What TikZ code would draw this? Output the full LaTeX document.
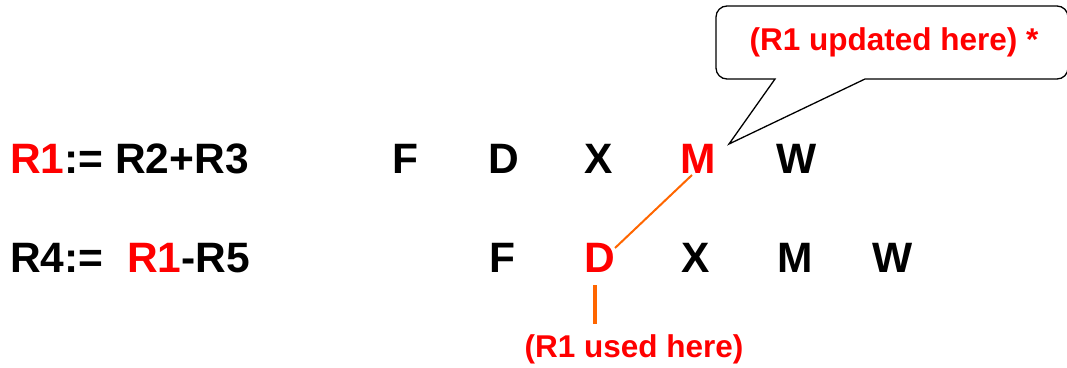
\documentclass[tikz,border=0pt]{standalone}
\usepackage{fontspec}
\setmainfont{Liberation Sans}
\usetikzlibrary{calc}
\definecolor{rred}{HTML}{FF0000}
\definecolor{lorange}{HTML}{FF6600}
\begin{document}
\begin{tikzpicture}[x=1pt,y=-1pt,
  big/.style={inner sep=0pt,font=\fontsize{42.5}{48}\selectfont\bfseries},
  lbl/.style={inner sep=0pt,text=rred,font=\fontsize{31.5}{36}\selectfont\bfseries},
  conn/.style={draw=lorange,line width=2pt}]
\useasboundingbox (0,0) rectangle (1067,367);
\clip (0,0) rectangle (1067,367);
% callout
\draw[line width=1.3pt,fill=white] (775,79) [rounded corners=11pt] -- (716,79) -- (716,6) -- (1068,6) -- (1068,79) [sharp corners] -- (865,79) -- (729,144) -- cycle;
\node[lbl,anchor=base] (upd) at (894,50) {(R1 updated here) *};
% left text
\node[big,anchor=base west] (i1) at (10,173) {\textcolor{rred}{R1}:= R2+R3};
\node[big,anchor=base west] (i2) at (10,272) {R4:=\ \ \textcolor{rred}{R1}-R5};
% row 1
\node[big,anchor=base] (F1) at (405,173) {F};
\node[big,anchor=base] (D1) at (504,173) {D};
\node[big,anchor=base] (X1) at (599,173) {X};
\node[big,anchor=base,text=rred] (M1) at (698,173) {M};
\node[big,anchor=base] (W1) at (797,173) {W};
% row 2
\node[big,anchor=base] (F2) at (502,272) {F};
\node[big,anchor=base,text=rred] (D2) at (600,272) {D};
\node[big,anchor=base] (X2) at (696,272) {X};
\node[big,anchor=base] (M2) at (795,272) {M};
\node[big,anchor=base] (W2) at (893,272) {W};
% bottom label
\node[lbl,anchor=base] (use) at (634,357) {(R1 used here)};
% connectors
\draw[conn] ($(M1.base)+(-6,2)$) -- ($(D2.base)+(15,-24)$);
\draw[conn,line width=3.5pt] ($(D2.base)+(-5,13)$) -- ($(use.north)+(-39,-10)$);
\end{tikzpicture}
\end{document}
